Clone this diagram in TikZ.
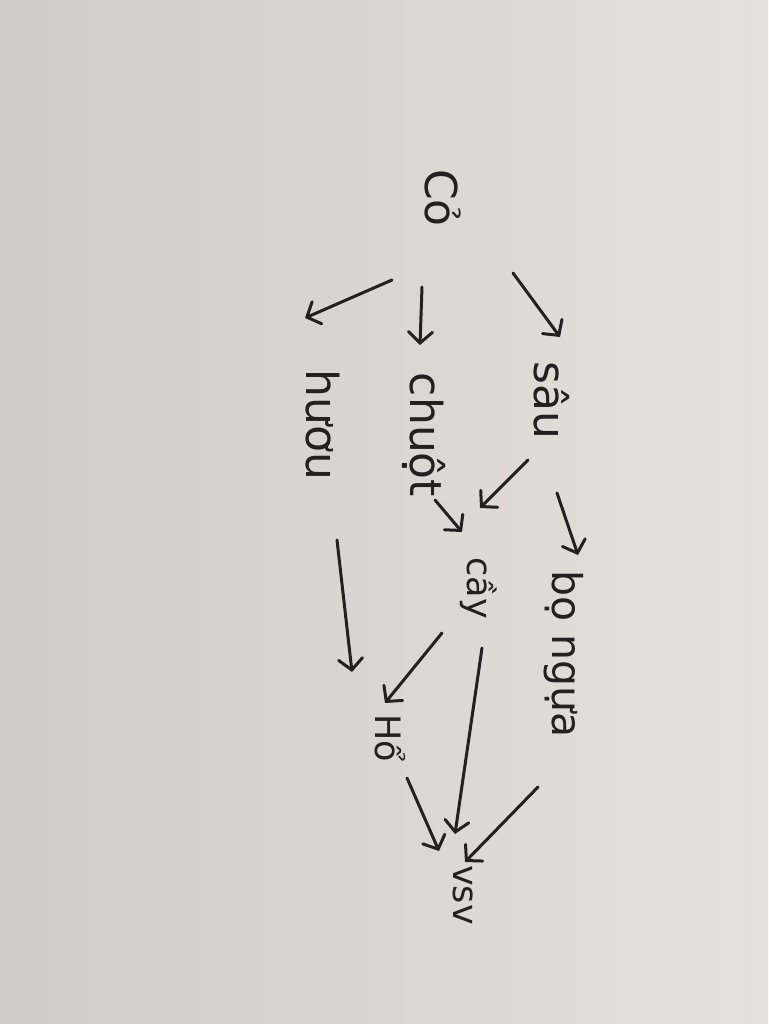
\documentclass[tikz,border=0pt]{standalone}
\usepackage{fontspec}
\setmainfont{DejaVu Sans}
\usetikzlibrary{arrows.meta}
\definecolor{paperA}{RGB}{206,203,201}
\definecolor{paperB}{RGB}{230,225,220}
\definecolor{ink}{RGB}{34,32,32}
\begin{document}
\begin{tikzpicture}[x=1pt,y=-1pt,
  word/.style={text=ink, rotate=-90, inner sep=0pt, font=\fontsize{44}{50}\selectfont},
  smallword/.style={font=\fontsize{35}{40}\selectfont},
  midword/.style={font=\fontsize{41}{46}\selectfont},
  arr/.style={draw=ink, line width=3pt, line cap=round, line join=round,
    -{Straight Barb[length=11pt,width=24pt,line cap=round]}}]
\shade[left color=paperA, right color=paperB] (0,0) rectangle (768,1024);
\useasboundingbox (0,0) rectangle (768,1024);
% words
\node[word] (co)    at (443,198) {Cỏ};
\node[word] (sau)   at (552,400) {sâu};
\node[word] (chuot) at (424,435) {chuột};
\node[word] (huou)  at (323,425) {hươu};
\node[word,midword] (bo) at (564,654) {bọ ngựa};
\node[word,smallword] (cay) at (479,588) {cầy};
\node[word,smallword] (ho)  at (390,738) {Hổ};
\node[word,smallword] (vsv) at (463,895) {vsv};
% arrow ends
\coordinate (co-sau-t) at (513,273);   \coordinate (co-sau-h) at (560,337);
\coordinate (co-chuot-t) at (422,287); \coordinate (co-chuot-h) at (420,345);
\coordinate (co-huou-t) at (392,280);  \coordinate (co-huou-h) at (305,318);
\coordinate (sau-cay-t) at (528,460);  \coordinate (sau-cay-h) at (480,508);
\coordinate (sau-bo-t) at (557,493);   \coordinate (sau-bo-h) at (578,555);
\coordinate (chuot-cay-t) at (435,500);\coordinate (chuot-cay-h) at (462,532);
\coordinate (huou-ho-t) at (337,540);  \coordinate (huou-ho-h) at (352,672);
\coordinate (cay-ho-t) at (442,633);   \coordinate (cay-ho-h) at (385,703);
\coordinate (cay-vsv-t) at (482,648);  \coordinate (cay-vsv-h) at (455,834);
\coordinate (bo-vsv-t) at (538,787);   \coordinate (bo-vsv-h) at (465,862);
\coordinate (ho-vsv-t) at (407,778);   \coordinate (ho-vsv-h) at (439,851);
% arrows
\draw[arr] (co-sau-t) -- (co-sau-h);
\draw[arr] (co-chuot-t) -- (co-chuot-h);
\draw[arr] (co-huou-t) -- (co-huou-h);
\draw[arr] (sau-cay-t) -- (sau-cay-h);
\draw[arr] (sau-bo-t) -- (sau-bo-h);
\draw[arr] (chuot-cay-t) -- (chuot-cay-h);
\draw[arr] (huou-ho-t) -- (huou-ho-h);
\draw[arr] (cay-ho-t) -- (cay-ho-h);
\draw[arr] (cay-vsv-t) -- (cay-vsv-h);
\draw[arr] (bo-vsv-t) -- (bo-vsv-h);
\draw[arr] (ho-vsv-t) -- (ho-vsv-h);
\end{tikzpicture}
\end{document}
